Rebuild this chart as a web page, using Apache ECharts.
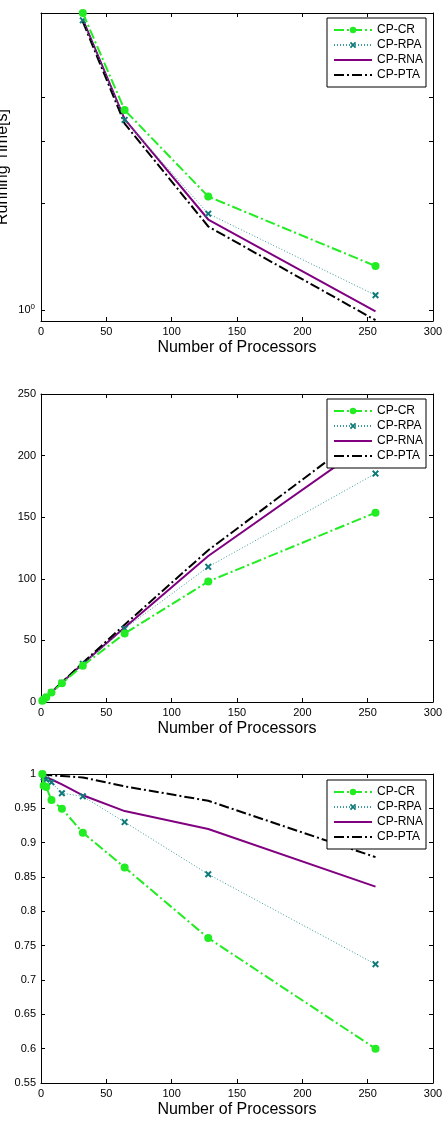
<!DOCTYPE html>
<html>
<head>
<meta charset="utf-8">
<script src="https://cdn.jsdelivr.net/npm/echarts@6/dist/echarts.min.js"></script>
<style>
html,body{margin:0;padding:0;background:#fff;}
#chart{width:448px;height:1126px;}
</style>
</head>
<body>
<div id="chart"></div>
<script>
// ---- data ----
const seriesNames = ['CP-CR', 'CP-RPA', 'CP-RNA', 'CP-PTA'];
const xTicks = [0, 50, 100, 150, 200, 250, 300];

// Chart 1: running time (log scale), processors 32..256
const procsTime = [32, 64, 128, 256];
const timeCR  = [6.9, 3.67, 2.09, 1.33];
const timeRPA = [6.58, 3.44, 1.87, 1.10];
const timeRNA = [6.62, 3.46, 1.80, 0.99];
const timePTA = [6.52, 3.36, 1.72, 0.935];
const timeTicks = [1, 2, 3, 4];

// Chart 2: speedup
const procs = [1, 2, 4, 8, 16, 32, 64, 128, 256];
const speedCR  = [1, 1.97, 3.9, 7.7, 15.2, 29.5, 55.6, 97.8, 153.7];
const speedRPA = [1, 1.99, 3.97, 7.9, 15.55, 31.0, 59.5, 109.7, 185.4];
const speedRNA = [1, 2.0, 3.98, 7.94, 15.8, 31.0, 60.5, 118.5, 214];
const speedPTA = [1, 2.0, 4.0, 7.98, 15.95, 31.8, 62.8, 123.2, 225];
const speedTicks = [0, 50, 100, 150, 200, 250];

// Chart 3: efficiency
const effCR  = [1, 0.983, 0.981, 0.962, 0.9495, 0.9146, 0.864, 0.761, 0.600];
const effRPA = [1, 0.995, 0.992, 0.988, 0.972, 0.9675, 0.930, 0.854, 0.723];
const effRNA = [1, 0.998, 0.995, 0.992, 0.985, 0.969, 0.946, 0.920, 0.836];
const effPTA = [1, 0.999, 0.999, 0.998, 0.997, 0.995, 0.982, 0.961, 0.879];
const effTicks = [0.55, 0.6, 0.65, 0.7, 0.75, 0.8, 0.85, 0.9, 0.95, 1];

// ---- styles ----
const FONT = '"Liberation Sans", Arial, Helvetica, sans-serif';
const GREEN = '#22ec22', TEAL = '#107a7a', TEAL_LINE = '#3a9a9a', PURPLE = '#800080', BLACK = '#000000';
const xMarker = 'path://M0,2 L2,0 L5,3 L8,0 L10,2 L7,5 L10,8 L8,10 L5,7 L2,10 L0,8 L3,5 Z';

const zip = (xs, ys) => xs.map((x, i) => [x, ys[i]]);

const grids = [
  {left: 41, right: 15, top: 13, height: 308},
  {left: 41, right: 15, top: 394, height: 308},
  {left: 41, right: 15, top: 774, height: 309}
].map(g => Object.assign({outerBoundsMode: 'none', containLabel: false}, g));

function xAxes(gi) {
  const common = {
    type: 'value', min: 0, max: 300, interval: 50, gridIndex: gi,
    axisLine: {show: true, onZero: false, lineStyle: {color: '#000', width: 1}},
    axisTick: {show: true, inside: true, length: 4, lineStyle: {color: '#000'}},
    splitLine: {show: false}
  };
  return [
    Object.assign({}, common, {
      position: 'bottom',
      axisLabel: {show: true, color: '#000', fontSize: 11, fontFamily: FONT, margin: 5},
      name: 'Number of Processors', nameLocation: 'middle', nameGap: 19,
      nameTextStyle: {color: '#000', fontSize: 16, fontFamily: FONT}
    }),
    Object.assign({}, common, {position: 'top', axisLabel: {show: false}})
  ];
}

function valueYAxes(gi, min, max, interval) {
  const common = {
    type: 'value', min: min, max: max, interval: interval, gridIndex: gi,
    axisLine: {show: true, onZero: false, lineStyle: {color: '#000', width: 1}},
    axisTick: {show: true, inside: true, length: 4, lineStyle: {color: '#000'}},
    splitLine: {show: false}
  };
  return [
    Object.assign({}, common, {position: 'left',
      axisLabel: {show: true, color: '#000', fontSize: 11, fontFamily: FONT, margin: 5}}),
    Object.assign({}, common, {position: 'right', axisLabel: {show: false}})
  ];
}

function logYAxes(gi) {
  const common = {
    type: 'log', logBase: 10, min: 0.93, max: 6.9, gridIndex: gi,
    axisLine: {show: true, onZero: false, lineStyle: {color: '#000', width: 1}},
    axisTick: {show: true, inside: true, length: 4, customValues: timeTicks, lineStyle: {color: '#000'}},
    splitLine: {show: false}, minorTick: {show: false}, minorSplitLine: {show: false}
  };
  return [
    Object.assign({}, common, {position: 'left',
      axisLabel: {show: true, customValues: [1], margin: 6,
        formatter: v => (Math.abs(v - 1) < 1e-6 ? '{b|10}{s|0}' : ''),
        rich: {
          b: {fontSize: 11, color: '#000', fontFamily: FONT},
          s: {fontSize: 8, color: '#000', fontFamily: FONT, padding: [0, 0, 7, 0]}
        }},
      name: 'Running Time[s]', nameLocation: 'middle', nameGap: 30, nameRotate: 90,
      nameMoveOverlap: false,
      nameTextStyle: {color: '#000', fontSize: 16, fontFamily: FONT}
    }),
    Object.assign({}, common, {position: 'right', axisLabel: {show: false}})
  ];
}

function makeSeries(gi, xs, ys) {
  const xi = gi * 2, yi = gi * 2;
  return [
    {name: seriesNames[0], type: 'line', xAxisIndex: xi, yAxisIndex: yi, data: zip(xs, ys[0]),
     symbol: 'circle', symbolSize: 8, itemStyle: {color: GREEN},
     lineStyle: {color: GREEN, width: 2, type: [10, 3, 2, 3]}, z: 4, clip: gi !== 0},
    {name: seriesNames[1], type: 'line', xAxisIndex: xi, yAxisIndex: yi, data: zip(xs, ys[1]),
     symbol: xMarker, symbolSize: 7, itemStyle: {color: TEAL},
     lineStyle: {color: TEAL_LINE, width: 1, type: [1, 2]}, z: 3},
    {name: seriesNames[2], type: 'line', xAxisIndex: xi, yAxisIndex: yi, data: zip(xs, ys[2]),
     symbol: 'none', showSymbol: false, itemStyle: {color: PURPLE},
     lineStyle: {color: PURPLE, width: 2, type: 'solid'}, z: 2},
    {name: seriesNames[3], type: 'line', xAxisIndex: xi, yAxisIndex: yi, data: zip(xs, ys[3]),
     symbol: 'none', showSymbol: false, itemStyle: {color: BLACK},
     lineStyle: {color: BLACK, width: 2, type: [10, 3, 2, 3]}, z: 2}
  ].map(s => Object.assign({animation: false, silent: true}, s));
}

function legend(top) {
  return {
    data: [
      {name: seriesNames[0]},
      {name: seriesNames[1]},
      {name: seriesNames[2], itemStyle: {opacity: 0}},
      {name: seriesNames[3], itemStyle: {opacity: 0}}
    ],
    orient: 'vertical', left: 327, top: top,
    backgroundColor: '#fff', borderColor: '#000', borderWidth: 1, borderRadius: 0,
    padding: [5, 3, 5, 6], itemGap: 1, itemWidth: 38, itemHeight: 8,
    textStyle: {color: '#000', fontSize: 12, fontFamily: FONT, lineHeight: 14},
    selectedMode: false, z: 10
  };
}

const option = {
  backgroundColor: '#fff',
  animation: false,
  textStyle: {fontFamily: FONT},
  grid: grids,
  xAxis: [].concat(xAxes(0), xAxes(1), xAxes(2)),
  yAxis: [].concat(logYAxes(0), valueYAxes(1, 0, 250, 50), valueYAxes(2, 0.55, 1, 0.05)),
  legend: [legend(18), legend(399), legend(780)],
  series: [].concat(
    makeSeries(0, procsTime, [timeCR, timeRPA, timeRNA, timePTA]),
    makeSeries(1, procs, [speedCR, speedRPA, speedRNA, speedPTA]),
    makeSeries(2, procs, [effCR, effRPA, effRNA, effPTA])
  )
};

const chart = echarts.init(document.getElementById('chart'), null, {renderer: 'canvas', width: 448, height: 1126});
chart.setOption(option);
</script>
</body>
</html>
